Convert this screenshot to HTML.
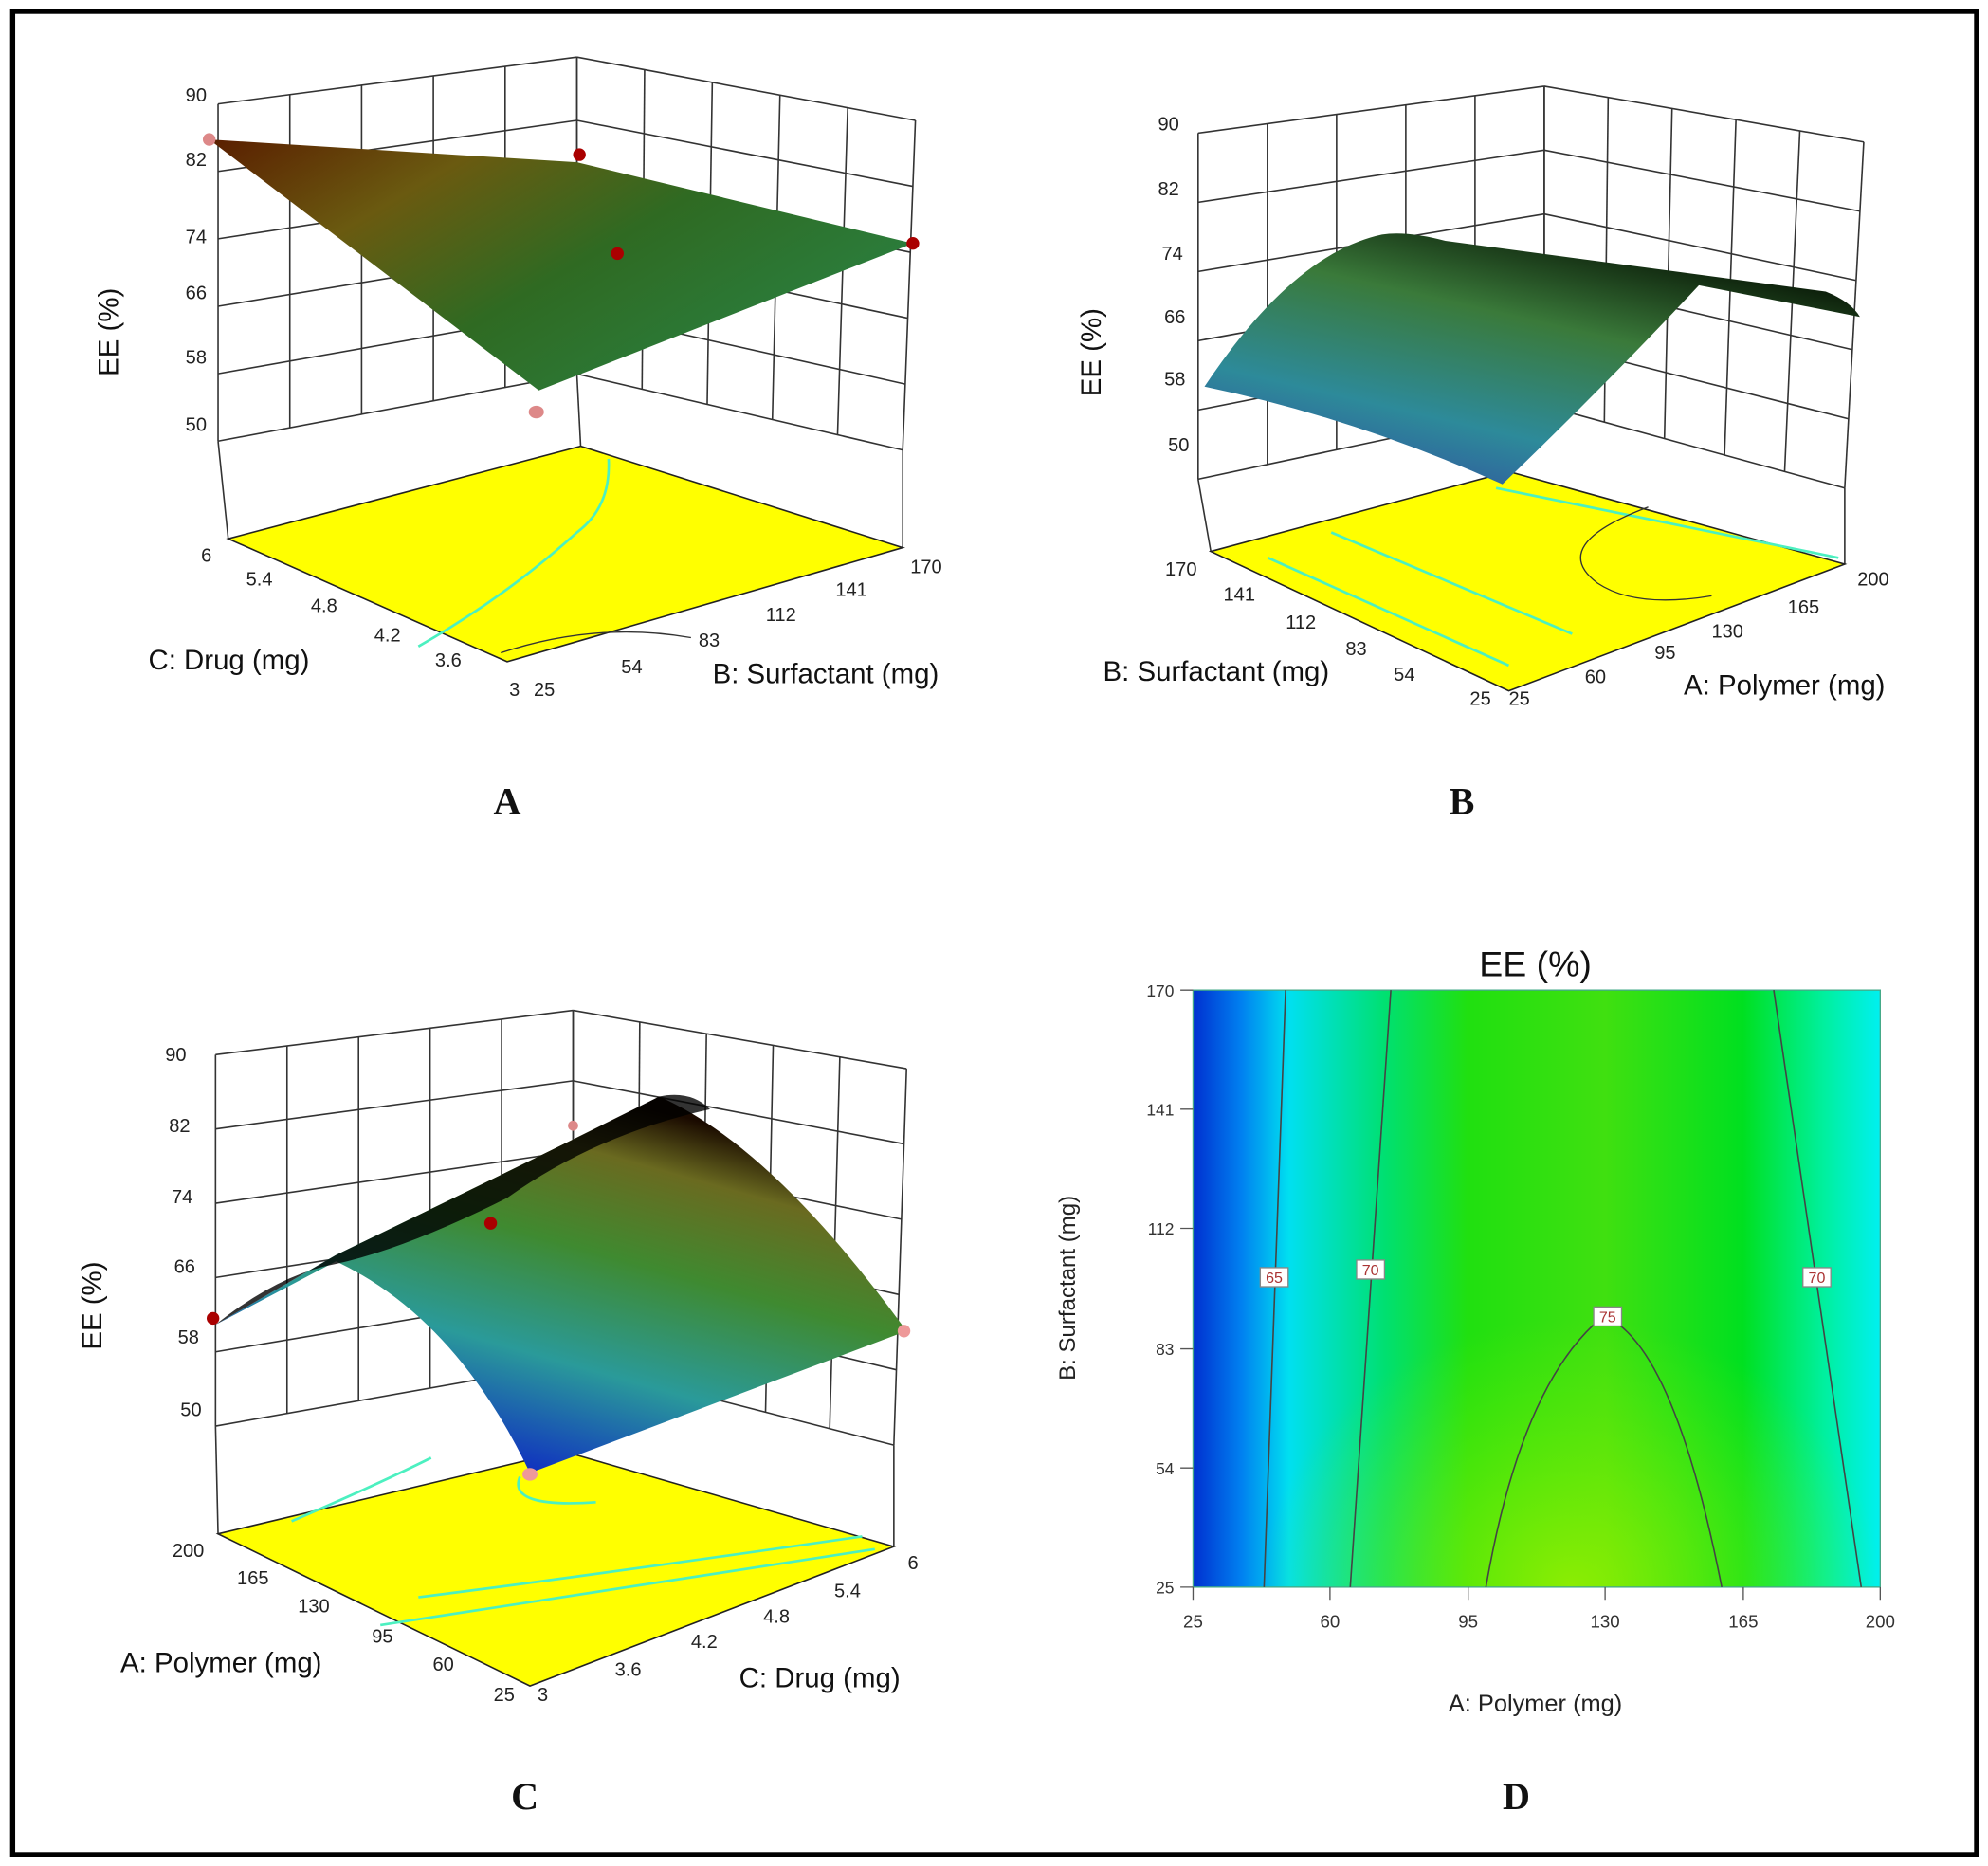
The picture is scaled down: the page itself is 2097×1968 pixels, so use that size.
<!DOCTYPE html>
<html><head><meta charset="utf-8">
<style>
html,body{margin:0;padding:0;background:#fff;}
svg{display:block;}
text{font-family:"Liberation Sans",sans-serif;}
.t{font-size:15px;fill:#222;}
.ax{font-size:22px;fill:#111;}
.big{font-family:"Liberation Serif",serif;font-size:30px;font-weight:bold;fill:#111;}
</style></head>
<body>
<svg id="s" width="2097" height="1968" viewBox="0 0 1568 1472" preserveAspectRatio="none" xmlns="http://www.w3.org/2000/svg">
<defs>
<linearGradient id="gA" x1="0" y1="0" x2="1" y2="0.6">
<stop offset="0" stop-color="#5a1e00"/><stop offset="0.3" stop-color="#6a5a10"/><stop offset="0.6" stop-color="#2f6a22"/><stop offset="1" stop-color="#2a8040"/></linearGradient>
<linearGradient id="gB" x1="0" y1="1" x2="0.6" y2="0">
<stop offset="0" stop-color="#3340a0"/><stop offset="0.35" stop-color="#2d8a9a"/><stop offset="0.7" stop-color="#3a7a3a"/><stop offset="1" stop-color="#0a1a08"/></linearGradient>
<linearGradient id="gC" gradientUnits="userSpaceOnUse" x1="418" y1="1162" x2="500" y2="870">
<stop offset="0" stop-color="#1030c0"/><stop offset="0.3" stop-color="#2a9a9a"/><stop offset="0.6" stop-color="#3f8a30"/><stop offset="0.85" stop-color="#6a6a20"/><stop offset="1" stop-color="#1a0a00"/></linearGradient>
<linearGradient id="gD" x1="0" y1="0" x2="1" y2="0">
<stop offset="0" stop-color="#0030d0"/><stop offset="0.07" stop-color="#0080f0"/><stop offset="0.14" stop-color="#00e0f0"/><stop offset="0.28" stop-color="#00e070"/><stop offset="0.4" stop-color="#20e010"/><stop offset="0.6" stop-color="#40e010"/><stop offset="0.8" stop-color="#00e020"/><stop offset="0.92" stop-color="#00f0a0"/><stop offset="1" stop-color="#00f0f0"/></linearGradient>
<radialGradient id="gD2" cx="0.55" cy="1" r="0.45">
<stop offset="0" stop-color="#a0f000" stop-opacity="0.8"/><stop offset="1" stop-color="#80f000" stop-opacity="0"/></radialGradient>
</defs>
<rect x="10" y="9" width="1549" height="1454" fill="none" stroke="#000" stroke-width="4"/>
<g id="grids" stroke="#333" stroke-width="1.2" fill="none"></g>

<!-- Panel A -->
<polygon points="180,425 458,352 712,432 400,522" fill="#ffff00" stroke="#222" stroke-width="1.2"/>
<path d="M480,362 Q482,400 455,420 Q400,470 330,510" stroke="#4cf0c0" stroke-width="2" fill="none"/>
<path d="M395,515 Q470,490 545,503" stroke="#333" stroke-width="1" fill="none"/>
<polygon points="165,110 455,128 720,192 425,308" fill="url(#gA)"/>
<circle cx="165" cy="110" r="5" fill="#d88"/><circle cx="457" cy="122" r="5" fill="#a00"/><circle cx="487" cy="200" r="5" fill="#a00"/><circle cx="720" cy="192" r="5" fill="#a00"/><ellipse cx="423" cy="325" rx="6" ry="5" fill="#d88"/>
<g class="t" text-anchor="end">
<text x="163" y="80">90</text><text x="163" y="131">82</text><text x="163" y="192">74</text><text x="163" y="236">66</text><text x="163" y="287">58</text><text x="163" y="340">50</text>
<text x="167" y="443">6</text><text x="215" y="462">5.4</text><text x="266" y="483">4.8</text><text x="316" y="506">4.2</text><text x="364" y="526">3.6</text><text x="410" y="549">3</text>
</g>
<g class="t">
<text x="421" y="549">25</text><text x="490" y="531">54</text><text x="551" y="510">83</text><text x="604" y="490">112</text><text x="659" y="470">141</text><text x="718" y="452">170</text>
</g>
<text class="ax" x="117" y="528">C: Drug (mg)</text>
<text class="ax" x="562" y="539">B: Surfactant (mg)</text>
<text class="ax" transform="translate(93,262) rotate(-90)" text-anchor="middle">EE (%)</text>

<!-- Panel B -->
<polygon points="955,435 1190,372 1455,445 1190,545" fill="#ffff00" stroke="#222" stroke-width="1.2"/>
<path d="M1000,440 L1190,525 M1050,420 L1240,500 M1180,385 L1450,440" stroke="#4cf0c0" stroke-width="2" fill="none"/>
<path d="M1300,400 Q1220,430 1260,460 Q1290,480 1350,470" stroke="#333" stroke-width="1" fill="none"/>
<path d="M950,305 Q1020,200 1090,185 Q1110,182 1140,190 L1440,230 Q1460,238 1467,250 L1340,225 Q1270,300 1185,382 Q1070,330 950,305 Z" fill="url(#gB)"/>
<g class="t" text-anchor="end">
<text x="930" y="103">90</text><text x="930" y="154">82</text><text x="933" y="205">74</text><text x="935" y="255">66</text><text x="935" y="304">58</text><text x="938" y="356">50</text>
<text x="944" y="454">170</text><text x="990" y="474">141</text><text x="1038" y="496">112</text><text x="1078" y="517">83</text><text x="1116" y="537">54</text><text x="1176" y="556">25</text>
</g>
<g class="t">
<text x="1190" y="556">25</text><text x="1250" y="539">60</text><text x="1305" y="520">95</text><text x="1350" y="503">130</text><text x="1410" y="484">165</text><text x="1465" y="462">200</text>
</g>
<text class="ax" x="870" y="537">B: Surfactant (mg)</text>
<text class="ax" x="1328" y="548">A: Polymer (mg)</text>
<text class="ax" transform="translate(868,278) rotate(-90)" text-anchor="middle">EE (%)</text>

<!-- Panel C -->
<polygon points="172,1210 445,1145 705,1220 418,1330" fill="#ffff00" stroke="#222" stroke-width="1.2"/>
<path d="M230,1200 Q300,1170 340,1150 M300,1282 L690,1222 M330,1260 Q450,1245 680,1212 M410,1165 Q400,1190 470,1185" stroke="#4cf0c0" stroke-width="2" fill="none"/>
<path d="M170,1045 L265,990 Q400,925 520,865 Q610,905 715,1050 L418,1162 Q360,1040 265,995 Z" fill="url(#gC)"/>
<path d="M170,1045 L265,990 Q400,925 520,865 Q545,860 560,875 Q470,895 400,945 Q320,985 265,997 Q220,1005 170,1045 Z" fill="#000" opacity="0.8"/>
<circle cx="168" cy="1040" r="5" fill="#a00"/><circle cx="387" cy="965" r="5" fill="#a00"/><circle cx="452" cy="888" r="4" fill="#d88"/><circle cx="713" cy="1050" r="5" fill="#e99"/><ellipse cx="418" cy="1163" rx="6" ry="5" fill="#e99"/>
<g class="t" text-anchor="end">
<text x="147" y="837">90</text><text x="150" y="893">82</text><text x="152" y="949">74</text><text x="154" y="1004">66</text><text x="157" y="1060">58</text><text x="159" y="1117">50</text>
<text x="161" y="1228">200</text><text x="212" y="1250">165</text><text x="260" y="1272">130</text><text x="310" y="1296">95</text><text x="358" y="1318">60</text><text x="406" y="1342">25</text>
</g>
<g class="t">
<text x="424" y="1342">3</text><text x="485" y="1322">3.6</text><text x="545" y="1300">4.2</text><text x="602" y="1280">4.8</text><text x="658" y="1260">5.4</text><text x="716" y="1238">6</text>
</g>
<text class="ax" x="95" y="1319">A: Polymer (mg)</text>
<text class="ax" x="583" y="1331">C: Drug (mg)</text>
<text class="ax" transform="translate(80,1030) rotate(-90)" text-anchor="middle">EE (%)</text>

<!-- Panel D -->
<rect x="941" y="781" width="542" height="471" fill="url(#gD)"/>
<rect x="941" y="781" width="542" height="471" fill="url(#gD2)"/>
<rect x="941" y="781" width="542" height="471" fill="none" stroke="#4a8" stroke-width="1"/>
<g stroke="#444" stroke-width="1.2" fill="none">
<path d="M1014,781 L997,1252"/><path d="M1097,781 L1065,1252"/><path d="M1399,781 L1468,1252"/>
<path d="M1172,1252 Q1200,1090 1265,1038 Q1320,1060 1358,1252"/>
</g>
<g font-size="12" text-anchor="middle">
<rect x="994" y="1000" width="22" height="15" fill="#fff" stroke="#888"/><text x="1005" y="1012" fill="#a33">65</text>
<rect x="1070" y="994" width="22" height="15" fill="#fff" stroke="#888"/><text x="1081" y="1006" fill="#a33">70</text>
<rect x="1422" y="1000" width="22" height="15" fill="#fff" stroke="#888"/><text x="1433" y="1012" fill="#a33">70</text>
<rect x="1257" y="1031" width="22" height="15" fill="#fff" stroke="#888"/><text x="1268" y="1043" fill="#a33">75</text>
</g>
<g stroke="#555" stroke-width="1">
<path d="M931,781H941M931,875H941M931,969H941M931,1064H941M931,1158H941M931,1252H941"/>
<path d="M941,1252V1262M1049,1252V1262M1158,1252V1262M1266,1252V1262M1375,1252V1262M1483,1252V1262"/>
</g>
<g font-size="13" fill="#333" text-anchor="end">
<text x="926" y="786">170</text><text x="926" y="880">141</text><text x="926" y="974">112</text><text x="926" y="1069">83</text><text x="926" y="1163">54</text><text x="926" y="1257">25</text>
</g>
<g font-size="14" fill="#333" text-anchor="middle">
<text x="941" y="1284">25</text><text x="1049" y="1284">60</text><text x="1158" y="1284">95</text><text x="1266" y="1284">130</text><text x="1375" y="1284">165</text><text x="1483" y="1284">200</text>
</g>
<text x="1211" y="770" font-size="28" text-anchor="middle" fill="#111">EE (%)</text>
<text x="1211" y="1350" font-size="19" text-anchor="middle" fill="#222">A: Polymer (mg)</text>
<text transform="translate(848,1016) rotate(-90)" font-size="18" text-anchor="middle" fill="#222">B: Surfactant (mg)</text>

<text class="big" x="400" y="642" text-anchor="middle">A</text>
<text class="big" x="1153" y="642" text-anchor="middle">B</text>
<text class="big" x="414" y="1427" text-anchor="middle">C</text>
<text class="big" x="1196" y="1427" text-anchor="middle">D</text>
</svg>
<script>
var g=document.getElementById('grids'),NS='http://www.w3.org/2000/svg';
function L(a,b){var l=document.createElementNS(NS,'line');l.setAttribute('x1',a[0]);l.setAttribute('y1',a[1]);l.setAttribute('x2',b[0]);l.setAttribute('y2',b[1]);g.appendChild(l);}
function I(a,b,t){return[a[0]+(b[0]-a[0])*t,a[1]+(b[1]-a[1])*t];}
function wall(TL,TR,BR,BL,nv,nh){for(var i=0;i<=nh;i++){var t=i/nh;L(I(TL,BL,t),I(TR,BR,t));}for(var j=0;j<=nv;j++){var s=j/nv;L(I(TL,TR,s),I(BL,BR,s));}}
wall([172,82],[455,45],[455,295],[172,348],5,5);wall([455,45],[722,95],[712,355],[455,295],5,5);
L([172,348],[180,425]);L([455,295],[458,352]);L([712,355],[712,432]);
wall([945,105],[1218,68],[1218,320],[945,378],5,5);wall([1218,68],[1470,112],[1455,385],[1218,320],5,5);
L([945,378],[955,435]);L([1218,320],[1190,372]);L([1455,385],[1455,445]);
wall([170,832],[452,797],[452,1075],[170,1125],5,5);wall([452,797],[715,843],[705,1140],[452,1075],5,5);
L([170,1125],[172,1210]);L([452,1075],[445,1145]);L([705,1140],[705,1220]);
</script>
</body></html>
